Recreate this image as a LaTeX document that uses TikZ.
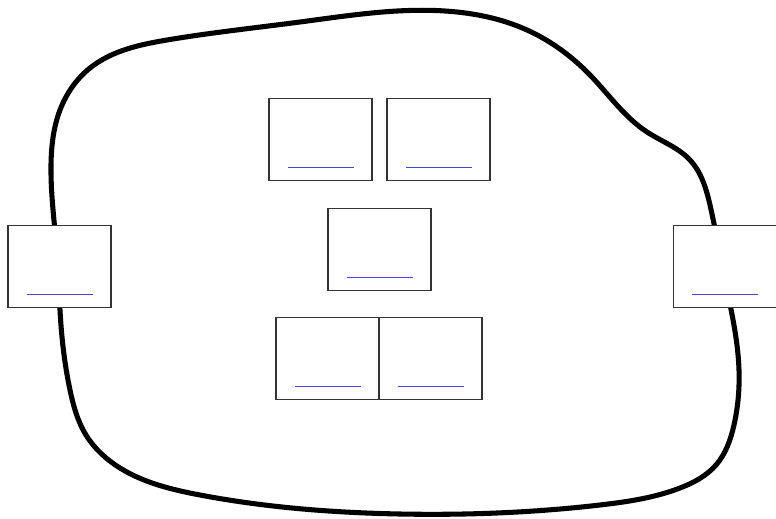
\documentclass[tikz,border=0pt]{standalone}
\usepackage{tikz}
\usetikzlibrary{calc,hobby}
\definecolor{linkblue}{RGB}{70,70,220}
\tikzset{
	pagebox/.style={draw=black!80, line width=0.9pt, fill=white, inner sep=0pt,
		minimum width=2.575cm, minimum height=2.05cm},
	linkline/.style={draw=linkblue, line width=1.2pt}
}

\begin{document}
\begin{tikzpicture}[x=0.025cm, y=-0.025cm]
			%%%%% START %%%%%
			
			\useasboundingbox (0, 0) rectangle (776, 519);
			
			\draw[line width=3.6pt, use Hobby shortcut, closed=true]
				(58, 266) .. (51, 165) .. (60, 110) .. (90, 68) .. (167, 40) .. (300, 22)
				.. (445, 11) .. (527, 30) .. (590, 75) .. (647, 132) .. (690, 160)
				.. (710, 205) .. (722, 266) .. (739, 370) .. (734, 425) .. (716, 465)
				.. (680, 488) .. (600, 505) .. (400, 514) .. (200, 495) .. (120, 468)
				.. (86, 435) .. (70, 390) .. (60, 310);
			
			\node[pagebox] (left) at (59.5, 266.5) {};
			\node[pagebox] (right) at (725, 266.5) {};
			
			\node[pagebox] (topa) at (320.5, 139.5) {};
			\node[pagebox] (topb) at (438.5, 139.5) {};
			\node[pagebox] (mid) at (379.5, 249.5) {};
			\node[pagebox] (lowa) at (327.5, 358.5) {};
			\node[pagebox] (lowb) at (430.5, 358.5) {};
			
			\foreach \n in {left, right, topa, topb, mid, lowa, lowb}
				\draw[linkline] ($(\n.center)+(-33, 28)$) -- ++(66, 0);
			
			%%%%% END %%%%%
		\end{tikzpicture}
\end{document}
